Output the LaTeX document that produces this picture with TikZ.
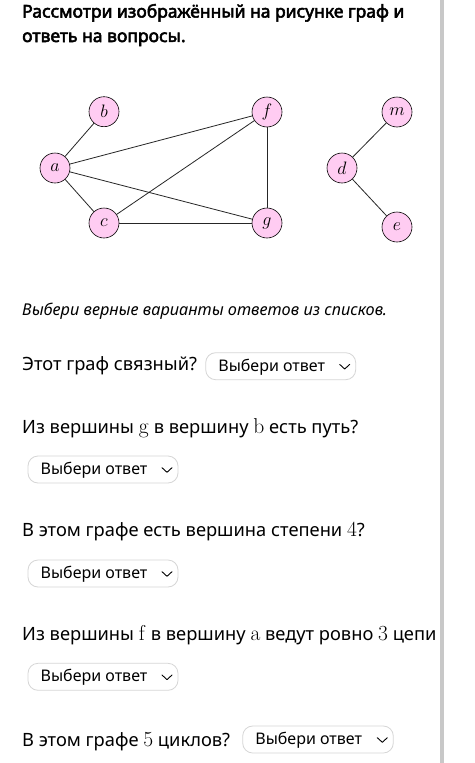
\RequirePackage{fix-cm}
\documentclass[tikz,border=0pt]{standalone}
\usepackage[no-math]{fontspec}
\setmainfont{Noto Sans}
\newfontfamily\titlefont{Noto Sans}[FakeBold=3]
\definecolor{nodepink}{RGB}{255,204,242}
\definecolor{boxgray}{RGB}{214,214,214}
\definecolor{bargray}{RGB}{200,200,200}
\newcommand{\mth}[1]{{\fontsize{21.5}{22}\selectfont$\mathrm{#1}$}}
\tikzset{
  vert/.style={circle,draw=black,line width=0.6pt,fill=nodepink,minimum size=30pt,inner sep=0pt,font=\fontsize{18}{18}\selectfont},
  edge/.style={line width=0.8pt,black!85},
  qtext/.style={anchor=base west,inner sep=0pt,font=\fontsize{18.3}{22}\selectfont},
  ddbox/.style={draw=boxgray,line width=0.8pt,rounded corners=10pt},
  ddtext/.style={anchor=base west,inner sep=0pt,font=\fontsize{16}{18}\selectfont},
  chev/.style={line width=0.9pt,line cap=round,line join=round},
  ttext/.style={anchor=base west,inner sep=0pt,font=\titlefont\fontsize{17.5}{24}\selectfont}
}
\newcommand{\dropdown}[4]{% name, left x, top y, right x
  \draw[ddbox] (#2,#3) rectangle (#4,#3+27) coordinate (#1-br);
  \node[ddtext] (#1-t) at (#2+12.5,#3+18.5) {Выбери ответ};
  \coordinate (#1-c) at (#4-11,#3+14);
  \draw[chev] ([xshift=-5pt,yshift=2.3pt]#1-c) -- ([yshift=-2.3pt]#1-c) -- ([xshift=5pt,yshift=2.3pt]#1-c);
}
\begin{document}
\begin{tikzpicture}[x=1pt,y=-1pt]
\useasboundingbox (0,0) rectangle (474,763);
\fill[white] (0,0) rectangle (474,763);
\fill[bargray] (440,0) rectangle (444,763);

% title
\node[ttext] (t1) at (22,17.5) {Рассмотри изображённый на рисунке граф и};
\node[ttext] (t2) at (22,42) {ответь на вопросы.};

% graph
\node[vert] (b) at (104,111.7) {$b$};
\node[vert] (a) at (55,168) {$a$};
\node[vert] (c) at (104,223) {$c$};
\node[vert] (f) at (267,112) {$f$};
\node[vert] (g) at (267,223) {$g$};
\node[vert] (m) at (397,112) {$m$};
\node[vert] (d) at (342,168) {$d$};
\node[vert] (e) at (397,227) {$e$};
\draw[edge] (a) -- (b);
\draw[edge] (a) -- (c);
\draw[edge] (a) -- (f);
\draw[edge] (a) -- (g);
\draw[edge] (c) -- (f);
\draw[edge] (c) -- (g);
\draw[edge] (f) -- (g);
\draw[edge] (d) -- (m);
\draw[edge] (d) -- (e);

% instructions
\node[anchor=base west,inner sep=0pt,font=\itshape\fontsize{16.3}{20}\selectfont] (ins) at (22,315) {Выбери верные варианты ответов из списков.};

% Q1
\node[qtext] (q1) at (22,370.5) {Этот граф связный?};
\dropdown{d1}{205.7}{352.7}{355.7}

% Q2
\node[qtext] (q2) at (22,433.3) {Из вершины \mth{g} в вершину \mth{b} есть путь?};
\dropdown{d2}{28}{456}{178}

% Q3
\node[qtext] (q3) at (22,536.7) {В этом графе есть вершина степени \mth{4}?};
\dropdown{d3}{28}{560}{178}

% Q4
\begin{scope}
\clip (0,600) rectangle (440,660);
\node[qtext] (q4) at (22,640.5) {Из вершины \mth{f} в вершину \mth{a} ведут ровно \mth{3} цепи};
\end{scope}
\dropdown{d4}{28}{663.3}{178}

% Q5
\node[qtext] (q5) at (22,746.5) {В этом графе \mth{5} циклов?};
\dropdown{d5}{242.7}{726}{393.3}
\end{tikzpicture}
\end{document}
